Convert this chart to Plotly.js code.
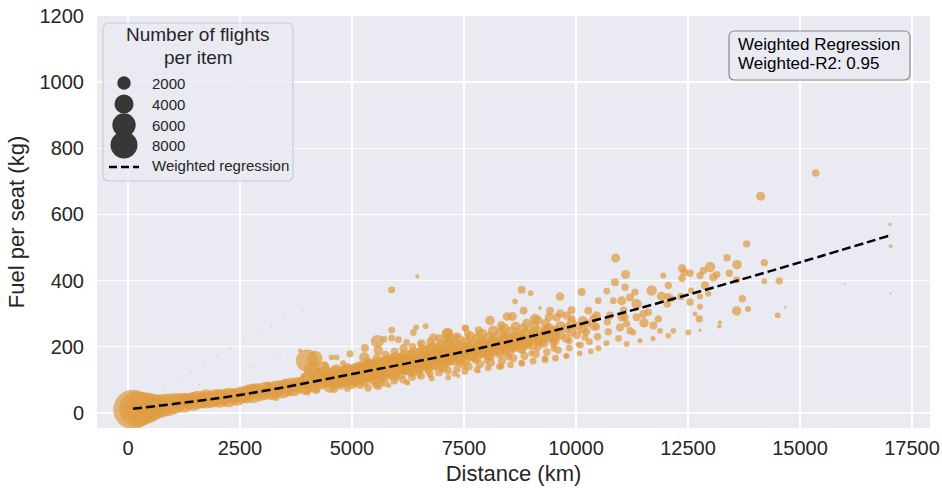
<!DOCTYPE html>
<html>
<head>
<meta charset="utf-8">
<script src="https://cdn.plot.ly/plotly-3.0.1.min.js"></script>
<style>html,body{margin:0;padding:0;background:#fff;}#chart{width:942px;height:488px;}</style>
</head>
<body>
<div id="chart"></div>
<script>
// ---------------- DATA ----------------
// distance (km), fuel per seat (kg), number of flights per item
const distA = [110,200,320,450,600,750,900];
const fuelA = [10,11,13,15,18,21,24];
const nA    = [8500,7000,6000,5000,3500,3000,2800];

const distB = [1050,1150,1250,1350,1450,1550,1650,1750,1850,1950,2050,2150,2250,2350,2450,2550, 1300,1700,2000,2300,2400];
const fuelB = [28,33,30,36,34,39,37,42,40,45,43,48,46,51,49,55, 48,58,62,66,40];
const nB    = [2400,1600,2200,1400,2000,1800,1300,2000,1500,1700,1900,1400,2100,1300,1800,1500, 150,100,120,80,300];

const distC = [2650,2700,2800,2900,2950,3050,3150,3200,3300,3400,3450,3550,3650,3700,3800,3900,3950, 2800,3100,3300,3600,3500,3900,4000];
const fuelC = [54,64,58,70,56,66,74,62,71,80,67,77,86,72,83,92,78, 80,87,47,60,97,112,64];
const nC    = [1600,1200,2000,900,1100,1800,1000,1300,1700,900,1400,1600,1000,1200,1500,900,1300, 200,150,300,250,100,120,300];

const distD = [3996,4174,4353,4107,4050,4150,4250,4300,4400,4450,4500,4550,4600,4650,4700,4750,4800,4850,4900,4950,5000, 4546,4658,4955,3839,4200,4600,4900,4400,4800];
const fuelD = [158,164,133,127,100,85,110,92,120,100,80,112,95,130,105,88,120,100,135,112,90, 168,168,178,188,70,72,75,145,150];
const nD    = [2700,1300,1100,1500,1800,1400,1600,1200,1000,1500,900,1300,1100,700,1400,800,1000,1200,600,1100,800, 180,180,280,90,400,350,300,250,200];

const distE = [5100,5120,5150,5180, 5300,5320,5350,5280,5360, 5500,5520,5480,5550,5540, 5700,5720,5680,5750,5730,
  5900,5920,5880,5950,5940, 6100,6120,6080,6150,6140, 6300,6320,6280,6350,6340, 6500,6520,6480,6550,6540,
  6700,6720,6680,6750,6740, 6900,6920,6880,6950,6940, 7100,7120,7080,7150,7140, 7300,7320,7280,7350,7340,
  5565,5886,6458,5275,5290,5588,5714,5886,5886,6034,6220,6369,6429,6645,6518,6815,7136,7315,7538,5588,6220,6741,7150,7373];
const fuelE = [100,125,140,85, 110,135,155,92,75, 120,145,100,165,85, 130,150,110,175,92,
  135,160,115,185,98, 142,165,120,195,100, 150,172,128,200,108, 155,180,135,210,112,
  162,188,140,215,118, 168,195,147,225,122, 174,205,152,228,128, 180,210,158,233,132,
  216,372,412,168,196,188,223,250,226,221,213,243,258,262,208,228,240,233,255,82,92,112,107,112];
const nE    = [900,700,500,400, 800,900,400,500,300, 1000,700,600,350,350, 900,800,700,400,400,
  800,900,600,350,350, 900,700,700,400,300, 800,900,600,300,350, 900,800,700,350,350,
  800,900,600,400,300, 900,700,700,400,350, 800,800,600,600,350, 900,700,600,250,300,
  900,275,100,600,350,500,250,250,250,250,250,250,180,180,180,400,700,180,250,400,180,100,180,100];

// dense core of the medium-haul cloud
const distK = [4620,4620, 4780,4780, 4920,4920, 5060,5060,5060, 5220,5220,5220, 5380,5380,5380, 5450,5450,
  5620,5620,5620, 5800,5800,5800, 5980,5980,5980, 6180,6180,6180, 6380,6380,6380, 6580,6580,6580,
  6780,6780,6780, 6980,6980,6980, 7180,7180,7180, 7400,7400,7400, 7650,7650,7650, 7900,7900,7900,
  8150,8150,8150, 8400,8400,8400, 8650,8650,8650, 8900,8900,8900, 9150,9150,9150, 9400,9400,9400,
  9650,9650,9650, 9900,9900,9900, 10150,10150, 10400,10400];
const fuelK = [108,125, 112,98, 125,105, 118,132,95, 122,140,104, 128,116,145, 110,138,
  133,118,152, 140,122,158, 146,128,168, 150,133,175, 158,140,182, 162,146,190,
  170,152,198, 176,158,206, 182,163,214, 188,168,220, 196,176,230, 205,183,238,
  212,190,248, 220,198,255, 228,205,262, 238,212,270, 246,220,280, 254,228,290,
  262,236,300, 270,244,310, 278,252, 285,262];
const nK    = [1000,700, 900,800, 1000,900, 1100,800,600, 1000,700,800, 1100,900,600, 700,900,
  1000,900,700, 1100,800,700, 1000,900,600, 1100,800,700, 1000,900,600, 1100,800,600,
  1000,900,700, 1100,800,600, 1000,900,700, 1100,800,600, 1000,900,600, 1000,800,700,
  900,800,600, 900,700,600, 800,700,500, 800,700,500, 700,600,450, 700,600,400,
  600,550,400, 600,500,350, 500,450, 450,400];

// heavier items along the centre of the band
const distM = [4700,4850,5000,5150,5300,5450,5600,5750,5900,6050,6200,6350,6500,6650,6800,6950,7100,
  7250,7400,7550,7700,7850,8000,8150,8300,8450,8600,8750,8900,9050,9200,9350,9500];
const fuelM = [100,120,108,130,118,142,124,148,132,155,140,160,146,170,152,178,162,
  186,170,195,180,204,188,214,196,222,205,232,214,240,222,252,232];
const nM    = [1400,1200,1600,1100,1500,1200,1600,1100,1500,1200,1600,1000,1500,1100,1500,1000,1400,
  1100,1400,1000,1300,1000,1300,900,1200,900,1200,800,1100,800,1000,700,900];

const distF = [7550,7570,7530,7600,7580,7520, 7800,7820,7780,7850,7830,7790, 8050,8070,8030,8100,8080,8040,
  8300,8320,8280,8350,8330,8290, 8550,8570,8530,8600,8580,8540, 8800,8820,8780,8850,8788,8830,8790,
  9050,9070,9030,9100,9085,8988,9040,8638, 9300,9320,9280,9350,9420,9310, 9550,9568,9530,9600,9643,9540,9196,
  9800,9792,9780,9850,9904,9790, 8460,7128,7522,10127];
const fuelF = [185,215,160,140,240,125, 192,222,168,147,250,130, 200,228,175,152,279,136,
  206,240,182,158,265,140, 214,245,190,165,291,145, 222,255,196,172,372,309,150,
  230,262,204,178,284,362,156,337, 240,270,210,184,309,160, 248,289,218,190,352,165,317,
  256,294,225,196,284,172, 291,238,257,365];
const nF    = [900,700,700,400,300,250, 800,900,600,400,350,250, 900,700,600,400,500,250,
  800,800,700,400,400,250, 900,700,600,350,450,250, 700,600,600,350,350,350,250,
  700,500,600,350,600,180,250,180, 600,500,500,300,350,250, 600,400,500,300,400,250,80,
  500,400,450,250,350,200, 400,700,250,350];

// lower streaks of the cloud
const distS = [5820,6250,6780,7290,7820,8330,8790,9310,9770,10330, 6000,6500,7000,7500,8000,8500,9000,9500,10050,
  5650,6350,6700,7050,7400,7750,8100,8450,8800,9150,9500,9850,10200];
const fuelS = [83,90,104,118,126,141,150,165,172,186, 105,117,131,142,156,168,180,194,207,
  100,120,128,138,148,160,168,178,190,198,208,218,228];
const nS    = [150,120,200,180,100,220,160,200,120,180, 200,250,180,250,200,220,180,200,150,
  300,300,300,350,300,300,300,300,300,300,300,250,250];

const distG = [10050,10020,10100,10080,10275,10250,10230,10300,10461,10498,10450,10480,10500,10685,10759,10700,10720,10680,
  10833,10885,10871,11020,11020,10982,10950,11108,11205,11094,11317,11205,11060,11354,11503,11094,11615,11838,11130,11354,
  11518,11726,11875,12172,12061,11280,11130,11719,11429,11690,11913,12061,12061,12038,12136,11949,12344,12366,12366,12420,
  12545,12567,12545,12768,12768,12953,12768,12656,12991,12842,12879,13065,13140,12752,12507,12768];
const fuelG = [262,235,205,180,309,270,245,215,294,339,260,230,195,368,294,275,245,210,
  339,468,395,339,289,258,225,418,248,380,365,349,310,329,299,289,304,284,269,289,
  272,264,248,248,233,243,208,224,218,370,352,385,352,329,345,415,352,437,407,425,
  422,370,335,415,352,360,321,299,441,430,385,410,418,284,243,250];
const nG    = [450,400,250,180,350,400,350,250,400,250,350,300,200,250,350,300,300,200,
  250,450,350,450,400,350,250,450,300,300,300,350,300,600,350,300,300,300,300,350,
  500,350,180,180,180,200,200,150,150,600,500,300,250,300,250,200,300,350,300,350,
  300,200,300,300,200,200,200,120,600,300,400,400,300,300,180,50];

const distH = [13371,13594,13422,13586,13712,13586,13839,13214,13199,13810,14203,14538,14203,14502,14665,14122,15350,17009,17024,17024,17000,16000];
const fuelH = [469,448,422,402,345,308,314,273,261,511,454,399,398,295,319,655,725,570,504,361,540,390];
const nH    = [300,500,300,300,300,500,200,100,100,300,300,300,180,180,30,450,320,60,80,20,10,8];

// faint rays of very small items near the origin
const distR = [500,800,1100,1400,1700,2000,2300,2600,2900,3200,3500,3900, 1000,1600,2200,2800,3400];
const fuelR = [55,78,102,126,150,170,195,218,240,262,286,310, 60,85,112,140,168];
const nR    = [8,6,5,5,4,4,3,3,3,3,2,2, 3,3,3,2,2];

// weighted regression curve
const regDist = [110,2500,5000,7500,10000,12500,15000,17000];
const regFuel = [12,54,117,185,265,357,455,536];

// tick labels, legend sizes and annotation text
const xTicks = [0,2500,5000,7500,10000,12500,15000,17500];
const yTicks = [0,200,400,600,800,1000,1200];
const legendSizes = [2000,4000,6000,8000];
const legendTitle = ["Number of flights","per item"];
const regLabel = "Weighted regression";
const boxLines = ["Weighted Regression","Weighted-R2: 0.95"];

// ---------------- CHART ----------------
const distance = [].concat(distA,distB,distC,distD,distE,distK,distM,distS,distF,distG,distH);
const fuel     = [].concat(fuelA,fuelB,fuelC,fuelD,fuelE,fuelK,fuelM,fuelS,fuelF,fuelG,fuelH);
const flights  = [].concat(nA,nB,nC,nD,nE,nK,nM,nS,nF,nG,nH);

const SIZEREF = 11; // area scaling: diameter(px) = sqrt(n / SIZEREF)
const FONT = "Liberation Sans, Arial, sans-serif";
const TXT = "#262626";
const ORANGE = "rgb(223,156,66)";

const W = 942, H = 488, ML = 97, MR = 12, MT = 16, MB = 60;
const PW = W - ML - MR, PH = H - MT - MB;
const px = X => (X - ML) / PW;
const py = Y => (H - MB - Y) / PH;

function roundRect(X0, Y0, X1, Y1, r) {
  const p = (X, Y) => px(X) + "," + py(Y);
  return "M" + p(X0 + r, Y0) + " L" + p(X1 - r, Y0) + " Q" + p(X1, Y0) + " " + p(X1, Y0 + r) +
    " L" + p(X1, Y1 - r) + " Q" + p(X1, Y1) + " " + p(X1 - r, Y1) +
    " L" + p(X0 + r, Y1) + " Q" + p(X0, Y1) + " " + p(X0, Y1 - r) +
    " L" + p(X0, Y0 + r) + " Q" + p(X0, Y0) + " " + p(X0 + r, Y0) + " Z";
}

const traces = [
  {
    type: "scatter", mode: "markers", x: distR, y: fuelR, showlegend: false, hoverinfo: "skip",
    marker: { size: nR, sizemode: "area", sizeref: SIZEREF, sizemin: 0.8,
      color: ORANGE, opacity: 0.4, line: { width: 0 } }
  },
  {
    type: "scatter", mode: "markers", x: distance, y: fuel, showlegend: false, hoverinfo: "skip",
    marker: { size: flights, sizemode: "area", sizeref: SIZEREF, sizemin: 0.8,
      color: ORANGE, opacity: 0.72, line: { width: 0 } }
  },
  {
    type: "scatter", mode: "lines", x: regDist, y: regFuel, showlegend: false, hoverinfo: "skip",
    line: { color: "#000000", width: 2.5, dash: "9px,4px", shape: "spline", smoothing: 1 }
  }
];

const shapes = [
  { type: "path", xref: "paper", yref: "paper", layer: "above", path: roundRect(103, 23, 293, 181, 6),
    fillcolor: "rgba(234,234,242,0.8)", line: { color: "rgb(204,204,210)", width: 1.2 } },
  { type: "path", xref: "paper", yref: "paper", layer: "above", path: roundRect(729, 31, 910, 80, 6),
    fillcolor: "rgba(234,234,242,0.8)", line: { color: "rgb(140,140,140)", width: 1.2 } },
  { type: "line", xref: "paper", yref: "paper", layer: "above", x0: px(109), x1: px(139), y0: py(167), y1: py(167),
    line: { color: "#000000", width: 2.5, dash: "8px,4px" } }
];
const legendY = [83, 104, 125, 145];
legendSizes.forEach((n, i) => {
  const r = Math.sqrt(n / SIZEREF) / 2, cx = 124, cy = legendY[i];
  shapes.push({ type: "circle", xref: "paper", yref: "paper", layer: "above",
    x0: px(cx - r), x1: px(cx + r), y0: py(cy + r), y1: py(cy - r),
    fillcolor: "rgb(55,55,55)", line: { width: 0 } });
});

const annotations = [];
legendTitle.forEach((t, i) => annotations.push({ xref: "paper", yref: "paper", x: px(198), y: py([35, 58][i]),
  text: t, showarrow: false, xanchor: "center", yanchor: "middle", font: { family: FONT, size: 19, color: TXT } }));
legendSizes.forEach((n, i) => annotations.push({ xref: "paper", yref: "paper", x: px(150), y: py(legendY[i]),
  text: String(n), showarrow: false, xanchor: "left", yanchor: "middle", font: { family: FONT, size: 15, color: TXT } }));
annotations.push({ xref: "paper", yref: "paper", x: px(150), y: py(166), text: regLabel, showarrow: false,
  xanchor: "left", yanchor: "middle", font: { family: FONT, size: 15, color: TXT } });
boxLines.forEach((t, i) => annotations.push({ xref: "paper", yref: "paper", x: px(736), y: py([45, 64][i]),
  text: t, showarrow: false, xanchor: "left", yanchor: "middle", font: { family: FONT, size: 17, color: "#000000" } }));

const layout = {
  width: W, height: H,
  margin: { l: ML, r: MR, t: MT, b: MB, pad: 0 },
  paper_bgcolor: "#ffffff", plot_bgcolor: "#EAEAF2",
  font: { family: FONT, color: TXT, size: 20 },
  showlegend: false,
  xaxis: {
    range: [-692, 17902], tickmode: "array", tickvals: xTicks, ticktext: xTicks.map(String),
    ticks: "", showline: false, zeroline: false, gridcolor: "#ffffff", gridwidth: 1.5,
    tickfont: { family: FONT, size: 20, color: TXT }, ticklabelstandoff: 6,
    title: { text: "Distance (km)", font: { family: FONT, size: 22, color: TXT }, standoff: 7 }
  },
  yaxis: {
    range: [-46, 1200], tickmode: "array", tickvals: yTicks, ticktext: yTicks.map(String),
    ticks: "", showline: false, zeroline: false, gridcolor: "#ffffff", gridwidth: 1.5,
    tickfont: { family: FONT, size: 20, color: TXT }, ticklabelstandoff: 12,
    title: { text: "Fuel per seat (kg)", font: { family: FONT, size: 22, color: TXT }, standoff: 8 }
  },
  shapes: shapes,
  annotations: annotations
};

Plotly.newPlot("chart", traces, layout, { displayModeBar: false, staticPlot: true });
</script>
</body>
</html>
